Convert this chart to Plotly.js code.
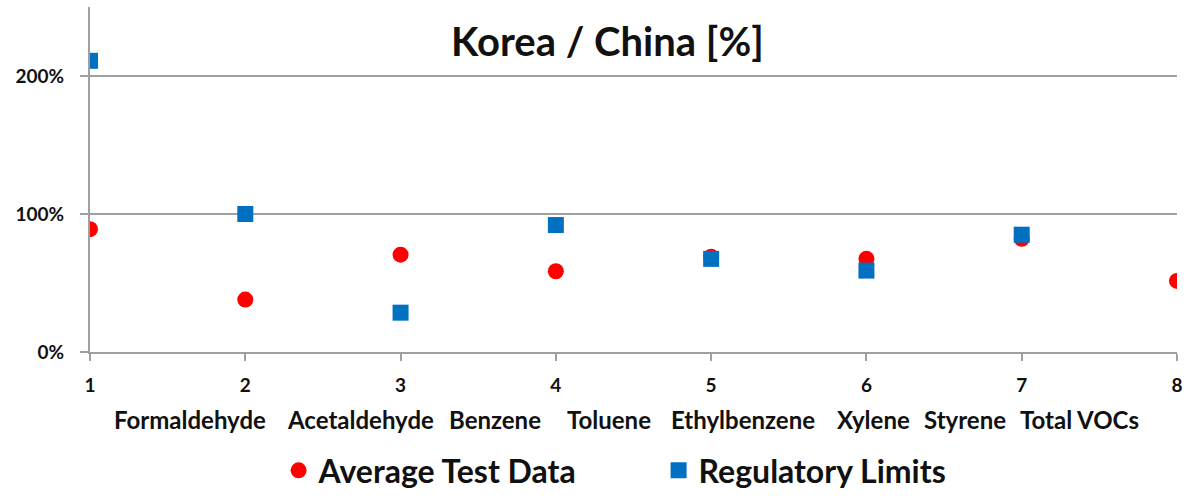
<!DOCTYPE html>
<html>
<head>
<meta charset="utf-8">
<script src="https://cdn.plot.ly/plotly-3.0.1.min.js"></script>
<style>html,body{margin:0;padding:0;background:#fff;}#chart{width:1187px;height:498px;}</style>
</head>
<body>
<div id="chart"></div>
<script>
// Data
const xValues = [1, 2, 3, 4, 5, 6, 7, 8];
const averageTestData = [0.89, 0.38, 0.705, 0.585, 0.69, 0.675, 0.82, 0.515];
const regulatoryLimits = [2.11, 1.00, 0.285, 0.92, 0.675, 0.59, 0.85, null];
const compoundLabels = ['Formaldehyde', 'Acetaldehyde', 'Benzene', 'Toluene', 'Ethylbenzene', 'Xylene', 'Styrene', 'Total VOCs'];
const seriesNames = ['Average Test Data', 'Regulatory Limits'];
const yTickValues = [0, 1, 2];
const yTickLabels = ['0%', '100%', '200%'];
const chartTitle = 'Korea / China [%]';

// Label anchor positions (data x units) along the axis
const labelPositions = [1.641, 2.745, 3.61, 4.345, 5.208, 6.045, 6.635, 7.375];

const FONT = 'Lato, "Open Sans", sans-serif';
const INK = '#111111';
const traces = [
  {
    x: xValues, y: averageTestData, name: seriesNames[0], type: 'scatter', mode: 'markers',
    marker: {symbol: 'circle', size: 16, color: '#ff0000'}
  },
  {
    x: xValues, y: regulatoryLimits, name: seriesNames[1], type: 'scatter', mode: 'markers',
    marker: {symbol: 'square', size: 16, color: '#0070c0'}
  }
];

const annotations = compoundLabels.map((t, i) => ({
  text: t, x: labelPositions[i], xref: 'x', y: -0.196, yref: 'paper',
  xanchor: 'center', yanchor: 'middle', showarrow: false,
  font: {family: FONT, size: 24, color: INK, weight: 'bold'}
}));

const layout = {
  width: 1187, height: 498,
  margin: {l: 90, r: 10, t: 7, b: 146},
  paper_bgcolor: '#ffffff', plot_bgcolor: '#ffffff',
  title: {
    text: chartTitle, x: 0.476, xanchor: 'center', y: 0.915, yanchor: 'middle',
    xref: 'paper', yref: 'container',
    font: {family: FONT, size: 40, color: INK, weight: 'bold'}
  },
  showlegend: true,
  legend: {
    orientation: 'h', x: 0.1735, xanchor: 'left', y: -0.008, yref: 'container', yanchor: 'bottom',
    font: {family: FONT, size: 32, color: INK, weight: 'bold'}, entrywidth: 335, traceorder: 'normal',
    bgcolor: 'rgba(0,0,0,0)'
  },
  xaxis: {
    range: [1, 8], tickvals: xValues,
    showgrid: false, zeroline: false, showline: true, linecolor: '#a0a0a0', linewidth: 2,
    ticks: 'outside', ticklen: 7, tickwidth: 2, tickcolor: '#a0a0a0', ticklabelstandoff: 8,
    tickfont: {family: FONT, size: 19, color: INK, weight: 'bold'}, fixedrange: true
  },
  yaxis: {
    range: [0, 2.5], tickvals: yTickValues, ticktext: yTickLabels,
    showgrid: true, gridcolor: '#a0a0a0', gridwidth: 2, zeroline: false,
    showline: true, linecolor: '#a0a0a0', linewidth: 2,
    ticks: 'outside', ticklen: 8, tickwidth: 2, tickcolor: '#a0a0a0', ticklabelstandoff: 12,
    tickfont: {family: FONT, size: 19, color: INK, weight: 'bold'}, fixedrange: true
  },
  annotations: annotations
};

Plotly.newPlot('chart', traces, layout, {displayModeBar: false, staticPlot: true});
</script>
</body>
</html>
